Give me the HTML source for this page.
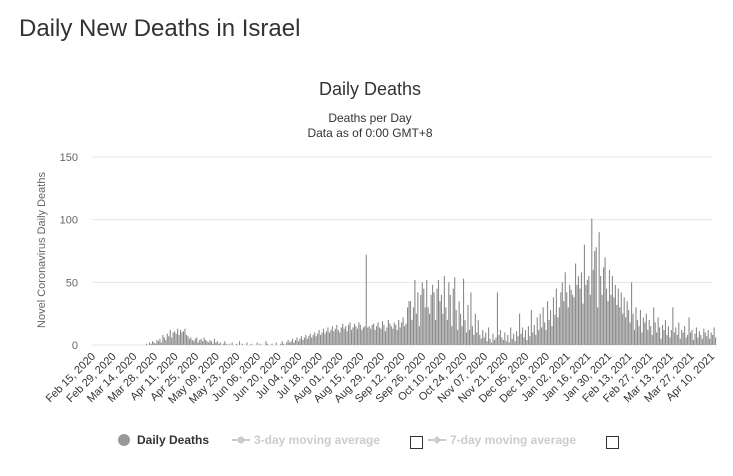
<!DOCTYPE html>
<html><head><meta charset="utf-8"><style>
body{margin:0;background:#fff;font-family:"Liberation Sans",sans-serif;}
#wrap{position:relative;width:733px;height:476px;overflow:hidden;}
</style></head><body>
<div id="wrap">
<div style="position:absolute;left:19px;top:15px;font-size:24px;color:#333;">Daily New Deaths in Israel</div>
<svg id="chart" width="733" height="476" style="position:absolute;left:0;top:0" font-family="Liberation Sans, sans-serif"></svg>
<div style="position:absolute;left:410px;top:436px;width:11px;height:11px;border:1px solid #333;"></div>
<div style="position:absolute;left:606px;top:436px;width:11px;height:11px;border:1px solid #333;"></div>
</div>
<script>
const yTicks=[0,50,100,150];
const xTickLabels=["Feb 15, 2020","Feb 29, 2020","Mar 14, 2020","Mar 28, 2020","Apr 11, 2020","Apr 25, 2020","May 09, 2020","May 23, 2020","Jun 06, 2020","Jun 20, 2020","Jul 04, 2020","Jul 18, 2020","Aug 01, 2020","Aug 15, 2020","Aug 29, 2020","Sep 12, 2020","Sep 26, 2020","Oct 10, 2020","Oct 24, 2020","Nov 07, 2020","Nov 21, 2020","Dec 05, 2020","Dec 19, 2020","Jan 02, 2021","Jan 16, 2021","Jan 30, 2021","Feb 13, 2021","Feb 27, 2021","Mar 13, 2021","Mar 27, 2021","Apr 10, 2021"];
const deaths=[0,0,0,0,0,0,0,0,0,0,0,0,0,0,0,0,0,0,0,0,0,0,0,0,0,0,0,0,0,0,0,0,0,0,0,
1,0,2,1,3,2,1,4,3,5,2,8,6,4,
9,7,12,6,10,11,9,13,8,12,10,11,13,8,
7,5,6,4,3,5,6,2,4,5,3,6,4,3,
2,4,3,1,5,2,3,1,2,0,1,3,1,0,
1,0,2,0,0,1,0,3,0,1,0,0,2,0,
0,1,0,0,0,2,0,1,0,0,0,3,1,0,
0,1,0,0,2,0,0,1,3,1,0,2,4,2,
3,5,2,4,6,3,5,7,4,6,8,5,7,9,
6,8,10,7,9,12,8,10,13,9,11,14,10,12,
15,11,13,16,12,10,14,17,13,15,11,16,18,12,
14,17,15,13,18,16,12,14,15,72,14,15,13,16,17,
12,15,18,14,13,19,16,11,14,20,17,15,13,18,
16,12,20,14,18,22,15,17,30,35,35,20,30,52,
25,42,15,40,50,45,30,52,30,25,40,48,42,20,
45,52,35,40,25,55,30,20,50,40,15,45,54,28,
12,35,25,15,53,20,10,32,12,42,15,8,25,10,
20,8,5,12,6,10,3,14,5,2,9,4,6,42,8,
12,6,4,10,3,8,2,14,5,9,3,11,7,25,
9,14,6,12,4,15,7,28,10,16,8,22,12,25,
14,30,18,12,35,20,28,15,38,24,45,22,30,42,
50,35,58,42,30,48,44,40,38,65,48,55,45,58,
33,80,48,52,55,40,101,60,75,78,30,90,55,40,
62,70,45,35,60,40,55,38,48,32,45,30,42,25,
38,22,35,28,18,50,25,12,30,20,15,28,10,22,
18,25,12,20,15,8,30,18,10,22,14,5,16,12,
20,8,15,6,12,30,10,14,8,18,5,12,10,15,
6,8,22,10,12,4,9,14,6,11,8,5,13,10,
7,12,5,10,8,14,6];
const svg=document.getElementById('chart');
const NS='http://www.w3.org/2000/svg';
const x0=95,dayW=1.474,yBase=345,yTop=157,yMax=150;
const xScale=d=>x0+d*dayW;
const yScale=v=>yBase-(v/yMax)*(yBase-yTop);
function mk(t,a,txt){const e=document.createElementNS(NS,t);for(const k in a)e.setAttribute(k,a[k]);if(txt!==undefined)e.textContent=txt;svg.appendChild(e);return e;}
let e;
e=mk('text',{x:370,y:95,'text-anchor':'middle','font-size':18,fill:'#333'},'Daily Deaths');


e=mk('text',{x:370,y:122,'text-anchor':'middle','font-size':12,fill:'#333'},'Deaths per Day');


e=mk('text',{x:370,y:137,'text-anchor':'middle','font-size':12,fill:'#333'},'Data as of 0:00 GMT+8');


yTicks.forEach(v=>{
 const y=yScale(v);
 e=mk('line',{x1:92,x2:712,y1:y,y2:y,stroke:'#e6e6e6','stroke-width':1});
 
 
 e=mk('text',{x:78,y:y+4,'text-anchor':'end','font-size':11,fill:'#666'},String(v));
 
 
});
e=mk('text',{x:0,y:0,'text-anchor':'middle','font-size':11,fill:'#666',transform:'translate(45,250) rotate(-90)'},'Novel Coronavirus Daily Deaths');


deaths.forEach((v,i)=>{
 if(v<=0)return;
 const y=yScale(v);
 const b=mk('rect',{x:xScale(i)-0.5,y:y,width:1.1,height:yBase-y,fill:'#8a8a8a'});
 
 
});
xTickLabels.forEach((l,i)=>{
 const x=xScale(i*14);
 const t=mk('text',{x:0,y:0,'text-anchor':'end','font-size':11,fill:'#333',transform:`translate(${x+1},${357}) rotate(-45)`},l);
 
 
});
e=mk('circle',{cx:124,cy:440,r:6,fill:'#999'});


e=mk('text',{x:137,y:444,'font-size':12,'font-weight':'bold',fill:'#333'},'Daily Deaths');


e=mk('line',{x1:232,x2:250,y1:440,y2:440,stroke:'#ccc','stroke-width':2});


e=mk('circle',{cx:241,cy:440,r:3.5,fill:'#ccc'});


e=mk('text',{x:254,y:444,'font-size':12,'font-weight':'bold',fill:'#ccc'},'3-day moving average');


e=mk('line',{x1:428,x2:446,y1:440,y2:440,stroke:'#ccc','stroke-width':2});


e=mk('path',{d:'M437 436 L441 440 L437 444 L433 440 Z',fill:'#ccc'});


e=mk('text',{x:450,y:444,'font-size':12,'font-weight':'bold',fill:'#ccc'},'7-day moving average');


</script>
</body></html>
